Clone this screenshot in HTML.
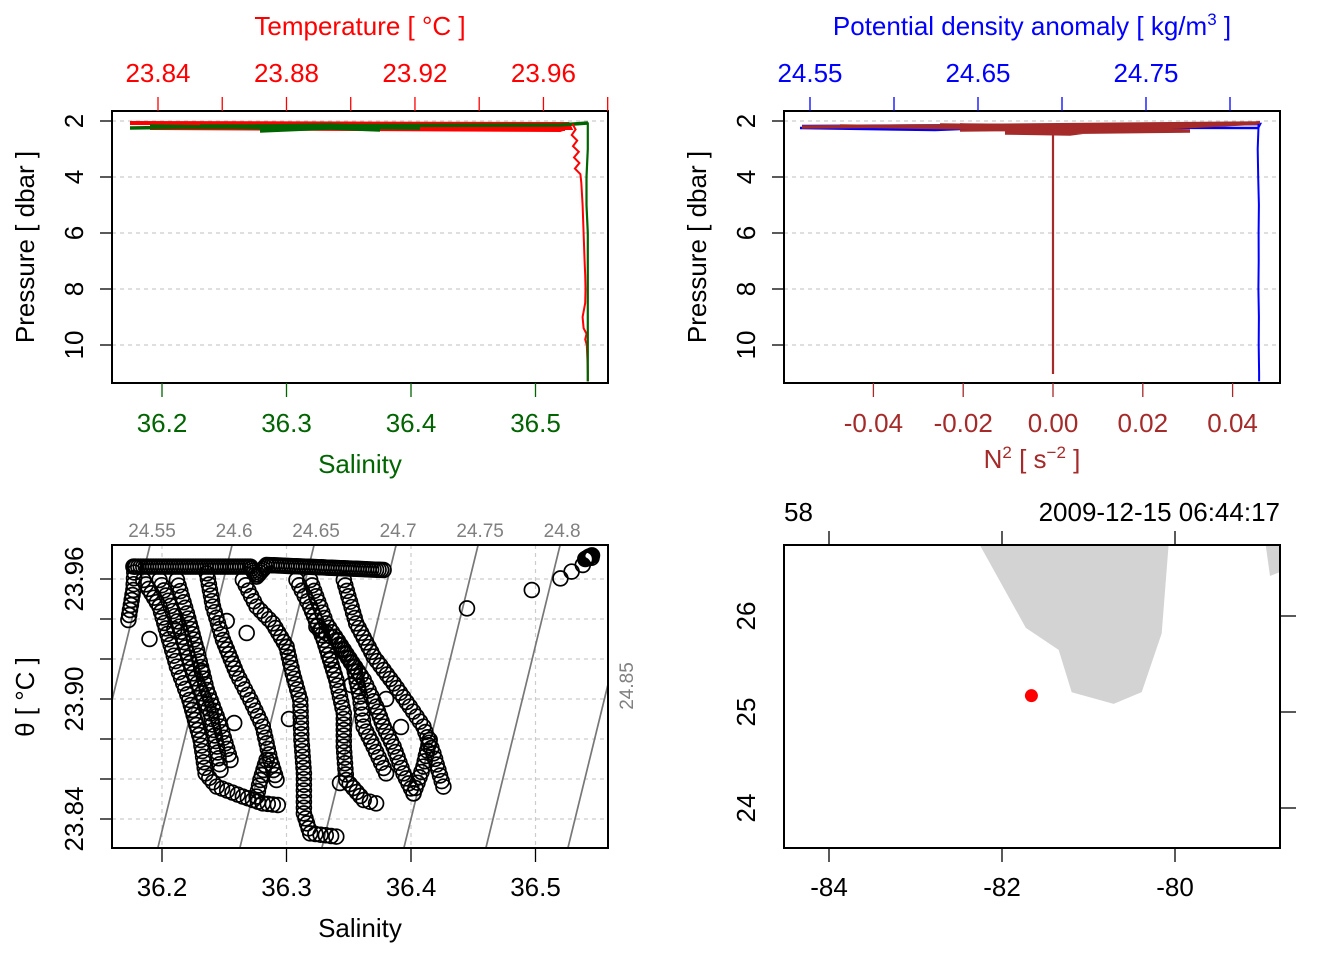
<!DOCTYPE html>
<html><head><meta charset="utf-8"><style>
html,body{margin:0;padding:0;background:#fff}
svg{display:block;font-family:"Liberation Sans",Arial,sans-serif}
</style></head><body>
<svg id="s" width="1344" height="960" viewBox="0 0 1344 960" xmlns="http://www.w3.org/2000/svg"></svg>
<script>
// ---------- data ----------
const presTicks=[2,4,6,8,10];
const salTicks=[36.2,36.3,36.4,36.5];
const tempTicks=[23.84,23.88,23.92,23.96];
const sigTicks=[24.55,24.65,24.75];
const n2Ticks=[-0.04,-0.02,0.00,0.02,0.04];
const thetaTicks=[23.84,23.86,23.88,23.90,23.92,23.94,23.96];
const isoLevels=[24.55,24.6,24.65,24.7,24.75,24.8,24.85];
// temperature profile
const tPres=[2.1,2.3,2.5,2.7,2.9,3.1,3.3,3.5,3.7,3.9,4.2,5,6,7,7.5,8,8.5,9,9.4,9.6,9.8,10,10.5,11,11.3];
const tVal=[23.9690,23.9700,23.9688,23.9705,23.9692,23.9710,23.9695,23.9712,23.9698,23.9715,23.9718,23.9722,23.9725,23.9728,23.9730,23.9731,23.9730,23.9722,23.9725,23.9734,23.9730,23.9735,23.9737,23.9738,23.9738];
const sPres=[2.05,3,4,5,6,7,8,9,10,11,11.3];
const sVal=[36.542,36.542,36.541,36.541,36.542,36.542,36.542,36.542,36.542,36.542,36.542];
const sigPres=[2.1,3,4,5,6,7,8,9,10,11,11.3];
const sigVals=[24.8170,24.8165,24.8168,24.8172,24.8170,24.8171,24.8169,24.8172,24.8171,24.8173,24.8173];
const n2Val=0.0;
// theta-S limbs (salinity, theta)
const limbS=[
 [36.173,36.177,36.178],
 [36.185,36.198,36.212,36.222,36.231,36.235,36.244,36.265,36.281,36.293],
 [36.198,36.214,36.225,36.239,36.244,36.247],
 [36.212,36.220,36.228,36.236,36.247,36.255],
 [36.236,36.241,36.249,36.260,36.271,36.281,36.287,36.292],
 [36.265,36.276,36.289,36.300,36.305,36.311,36.312,36.314,36.314,36.319,36.340],
 [36.276,36.279,36.284],
 [36.308,36.319,36.330,36.340,36.346,36.346,36.348,36.362,36.372],
 [36.319,36.332,36.346,36.362,36.372,36.378,36.386,36.394,36.402],
 [36.346,36.356,36.370,36.386,36.399,36.410,36.418,36.426],
 [36.324,36.340,36.354,36.359,36.362,36.370,36.380],
 [36.402,36.410,36.415],
 [36.177,36.271,36.276,36.284,36.378]
];
const limbT=[
 [23.9395,23.9545,23.9662],
 [23.9595,23.9462,23.9162,23.8995,23.8795,23.8628,23.8562,23.8512,23.8478,23.8470],
 [23.9595,23.9362,23.9128,23.8928,23.8762,23.8645],
 [23.9595,23.9428,23.9245,23.9045,23.8862,23.8695],
 [23.9628,23.9462,23.9295,23.9128,23.8995,23.8862,23.8695,23.8595],
 [23.9595,23.9462,23.9378,23.9262,23.9128,23.8995,23.8795,23.8628,23.8428,23.8328,23.8312],
 [23.8512,23.8595,23.8695],
 [23.9595,23.9462,23.9295,23.9095,23.8928,23.8762,23.8595,23.8495,23.8478],
 [23.9595,23.9378,23.9245,23.9095,23.8962,23.8862,23.8762,23.8628,23.8528],
 [23.9595,23.9378,23.9212,23.9078,23.8962,23.8862,23.8728,23.8562],
 [23.9362,23.9295,23.9162,23.9012,23.8862,23.8762,23.8628],
 [23.8528,23.8662,23.8795],
 [23.9662,23.9662,23.9612,23.9670,23.9645]
];
const extraS=[36.445,36.497,36.520,36.529,36.538,36.541,36.543,36.545,36.252,36.268,36.300,36.335,36.352,36.380,36.392,36.343,36.302,36.210,36.190,36.232,36.258];
const extraT=[23.9453,23.9545,23.9603,23.9637,23.9670,23.9703,23.9712,23.9706,23.9390,23.9330,23.9260,23.9200,23.9070,23.9000,23.8860,23.8580,23.8900,23.9350,23.9300,23.9140,23.8880];
// map
const coastLon=[-82.25,-81.72,-81.34,-81.19,-80.71,-80.39,-80.16,-80.08];
const coastLat=[26.74,25.88,25.65,25.21,25.09,25.21,25.82,26.74];
const stnLon=-81.66, stnLat=25.17;
const lonTicks=[-84,-82,-80], latTicks=[24,25,26];

// ---------- helpers ----------
const NS="http://www.w3.org/2000/svg", S=document.getElementById('s');
const FS=26;
function el(t,a,p){const e=document.createElementNS(NS,t);for(const k in a)e.setAttribute(k,a[k]);(p||S).appendChild(e);return e;}
function txt(x,y,s,c,size,rot,anchor){const e=el('text',{x:x,y:y,fill:c||'#000','font-size':size||FS,'text-anchor':anchor||'middle'});if(rot)e.setAttribute('transform','rotate(-90 '+x+' '+y+')');e.textContent=s;return e;}
function line(x1,y1,x2,y2,c,w,d){const e=el('line',{x1:x1,y1:y1,x2:x2,y2:y2,stroke:c||'#000','stroke-width':w||1.3});if(d)e.setAttribute('stroke-dasharray',d);return e;}

// ---------- panel 1 ----------
const P1={l:112,r:608,t:111,b:383};
const pY=p=>121+(p-2)*28;
const sX=s=>162+(s-36.2)*1245;
const tX=t=>158+(t-23.84)*3212;
presTicks.forEach(p=>{const g=line(P1.l,pY(p),P1.r,pY(p),'#ccc',1.2,'4,4');});
(function(){const g=el('g',{});
 el('path',{d:'M130 123 L568 124 L570 128 L150 128 L560 130 L568 127 M380 127 L565 129',fill:'none',stroke:'#ff0000','stroke-width':4},g);
 el('path',{d:'M130 128 L330 125 L420 128 L200 126 L560 125 L588 123 M260 131 L330 128 L380 130 M150 126 L280 128',fill:'none',stroke:'#006400','stroke-width':3.5},g);})();
(function(){const d=tPres.map((p,i)=>(i?'L':'M')+tX(tVal[i]).toFixed(1)+' '+pY(p).toFixed(1)).join(' ');
 const e=el('path',{d:d,fill:'none',stroke:'#ff0000','stroke-width':2});
 
 const d2=sPres.map((p,i)=>(i?'L':'M')+sX(sVal[i]).toFixed(1)+' '+pY(p).toFixed(1)).join(' ');
 const e2=el('path',{d:d2,fill:'none',stroke:'#006400','stroke-width':2.2});
 })();
el('rect',{x:P1.l,y:P1.t,width:P1.r-P1.l,height:P1.b-P1.t,fill:'none',stroke:'#000','stroke-width':2,});
presTicks.forEach(p=>{line(100,pY(p),112,pY(p));txt(83,pY(p),String(p),'#000',FS,true);});
txt(34,247,'Pressure [ dbar ]','#000',FS,true);
salTicks.forEach(s=>{line(sX(s),383,sX(s),397,'#006400');txt(sX(s),432,s.toFixed(1),'#006400',FS);});
txt(360,473,'Salinity','#006400',FS);
for(let i=0;i<8;i++){const t=23.84+i*0.02;line(tX(t),97,tX(t),111,'#ff0000');}
tempTicks.forEach(t=>txt(tX(t),82,t.toFixed(2),'#ff0000',FS));
txt(360,35,'Temperature [ °C ]','#ff0000',FS);

// ---------- panel 2 ----------
const P2={l:784,r:1280,t:111,b:383};
const gX=g=>810+(g-24.55)*1680;
const nX=n=>1053+n*4490;
presTicks.forEach(p=>line(P2.l,pY(p),P2.r,pY(p),'#ccc',1.2,'4,4'));
(function(){const g=el('g',{});
 el('path',{d:'M802 126 L1260 124 L1258 128 L860 127 L800 128 L935 130 L985 128 L1165 126',fill:'none',stroke:'#0000ff','stroke-width':2.5},g);
 el('path',{d:'M802 127 L1260 123 L1180 127 L960 125 L1190 131 L1005 133 L1070 134 L1100 130 L840 126 M940 125 L1160 128 L960 130',fill:'none',stroke:'#a52a2a','stroke-width':3.5},g);})();
(function(){const d=sigPres.map((p,i)=>(i?'L':'M')+gX(sigVals[i]).toFixed(1)+' '+pY(p).toFixed(1)).join(' ');
 const e=el('path',{d:d,fill:'none',stroke:'#0000ff','stroke-width':2});
 
 const e2=el('line',{x1:nX(n2Val),y1:pY(2.5),x2:nX(n2Val),y2:374,stroke:'#a52a2a','stroke-width':2.2});
 })();
el('rect',{x:P2.l,y:P2.t,width:P2.r-P2.l,height:P2.b-P2.t,fill:'none',stroke:'#000','stroke-width':2,});
presTicks.forEach(p=>{line(772,pY(p),784,pY(p));txt(755,pY(p),String(p),'#000',FS,true);});
txt(706,247,'Pressure [ dbar ]','#000',FS,true);
n2Ticks.forEach(n=>{line(nX(n),383,nX(n),397,'#a52a2a');txt(nX(n),432,n.toFixed(2),'#a52a2a',FS);});
(function(){const t=txt(1032,468,'','#a52a2a',FS);t.innerHTML='N<tspan font-size="17" dy="-10">2</tspan><tspan dy="10"> [ s</tspan><tspan font-size="17" dy="-10">−2</tspan><tspan dy="10"> ]</tspan>';})();
for(let i=0;i<6;i++){const g=24.55+i*0.05;line(gX(g),97,gX(g),111,'#0000ff');}
sigTicks.forEach(g=>txt(gX(g),82,g.toFixed(2),'#0000ff',FS));
(function(){const t=txt(1032,35,'','#0000ff',FS);t.innerHTML='Potential density anomaly [ kg/m<tspan font-size="17" dy="-10">3</tspan><tspan dy="10"> ]</tspan>';})();

// ---------- panel 3: TS ----------
const P3={l:112,r:608,t:545,b:848};
const thY=t=>579+(23.96-t)*2000;
salTicks.forEach(s=>line(sX(s),P3.t,sX(s),P3.b,'#ccc',1.2,'4,4'));
thetaTicks.forEach(t=>line(P3.l,thY(t),P3.r,thY(t),'#ccc',1.2,'4,4'));
const clip=el('clipPath',{id:'c3'});el('rect',{x:P3.l,y:P3.t,width:P3.r-P3.l,height:P3.b-P3.t},clip);
const iso=el('g',{'clip-path':'url(#c3)',});
isoLevels.forEach((lv,i)=>{
 const Sat=t=>36.1904+(lv-24.55+0.2987*(t-23.977))/0.759;
 const t1=23.96+(579-545)/2000, t2=23.96-(848-579)/2000;
 const ln=line(sX(Sat(t1)),545,sX(Sat(t2)),848,'#777',1.7);iso.appendChild(ln);
 if(i<6){const l=txt(sX(Sat(t1))+2,537,String(lv),'#808080',19);}
 else{const l=txt(633,686,String(lv),'#808080',19,true);}
});
const pts=el('g',{'clip-path':'url(#c3)',});
function circ(x,y){el('circle',{cx:x.toFixed(1),cy:y.toFixed(1),r:7.4,fill:'none',stroke:'#000','stroke-width':1.7},pts);}
limbS.forEach((ls,k)=>{const lt=limbT[k];
 for(let i=0;i<ls.length-1;i++){const x1=sX(ls[i]),y1=thY(lt[i]),x2=sX(ls[i+1]),y2=thY(lt[i+1]);
  const n=Math.max(1,Math.round(Math.hypot(x2-x1,y2-y1)/(k==12?2.5:5.5)));
  for(let j=0;j<n;j++)circ(x1+(x2-x1)*j/n,y1+(y2-y1)*j/n);}
 circ(sX(ls[ls.length-1]),thY(lt[lt.length-1]));});
extraS.forEach((s,i)=>circ(sX(s),thY(extraT[i])));
for(let j=0;j<10;j++)circ(sX(36.540+j*0.0006),thY(23.9700+j*0.0002));
el('rect',{x:P3.l,y:P3.t,width:P3.r-P3.l,height:P3.b-P3.t,fill:'none',stroke:'#000','stroke-width':2,});
[23.84,23.90,23.96].forEach(t=>{txt(83,thY(t),t.toFixed(2),'#000',FS,true);});
thetaTicks.forEach(t=>line(100,thY(t),112,thY(t)));
txt(34,697,'θ [ °C ]','#000',FS,true);
salTicks.forEach(s=>{line(sX(s),848,sX(s),862);txt(sX(s),896,s.toFixed(1),'#000',FS);});
txt(360,937,'Salinity','#000',FS);

// ---------- panel 4: map ----------
const P4={l:784,r:1280,t:545,b:848};
const lX=l=>829+(l+84)*86.5;
const aY=a=>712-(a-25)*96;
const mclip=el('clipPath',{id:'c4'});el('rect',{x:P4.l,y:P4.t,width:P4.r-P4.l,height:P4.b-P4.t},mclip);
const mg=el('g',{'clip-path':'url(#c4)'});
el('polygon',{points:coastLon.map((l,i)=>lX(l).toFixed(1)+','+aY(coastLat[i]).toFixed(1)).join(' '),fill:'#d3d3d3',stroke:'#d3d3d3',},mg);
el('polygon',{points:'1265,540 1270,576 1280,572 1280,540',fill:'#d3d3d3',},mg);
el('circle',{cx:lX(stnLon),cy:aY(stnLat),r:6.5,fill:'#ff0000',});
el('rect',{x:P4.l,y:P4.t,width:P4.r-P4.l,height:P4.b-P4.t,fill:'none',stroke:'#000','stroke-width':2,});
lonTicks.forEach(l=>{line(lX(l),848,lX(l),862);txt(lX(l),896,String(l),'#000',FS);line(lX(l),531,lX(l),545);});
latTicks.forEach(a=>{line(1280,aY(a),1296,aY(a));txt(755,aY(a),String(a),'#000',FS,true);});
txt(784,521,'58','#000',FS,false,'start');
txt(1280,521,'2009-12-15 06:44:17','#000',FS,false,'end');
</script>
</body></html>
